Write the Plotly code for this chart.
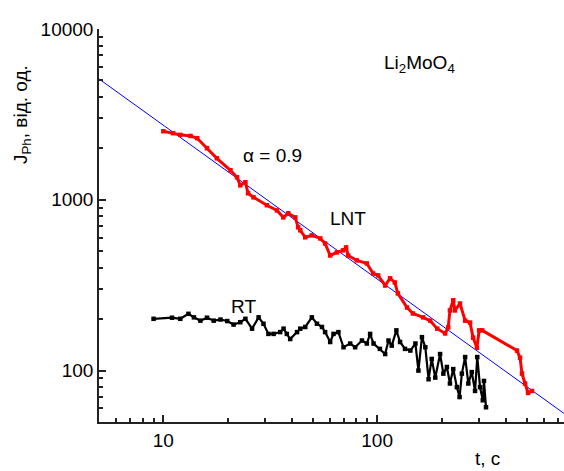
import plotly.graph_objects as go

# LNT (red) series
lnt_t = [10.0, 11.1, 12.0, 13.4, 14.4, 16.0, 17.8, 20.6, 22.1, 22.9, 24.2, 24.9, 26.4,
         30.5, 34.0, 36.4, 38.4, 41.4, 42.7, 43.7, 46.1, 49.5, 54.2, 57.1, 60.3, 64.8,
         69.3, 71.6, 73.2, 80.3, 89.5, 95.8, 101, 109, 115, 121, 125, 138, 147, 164,
         177, 191, 208, 215, 219, 227, 231, 244, 258, 272, 281, 293, 300, 310, 451,
         466, 476, 492, 508, 530]
lnt_J = [2520, 2455, 2400, 2366, 2294, 2005, 1750, 1489, 1355, 1216, 1267, 1092, 1034,
         929, 867, 789, 834, 789, 690, 663, 603, 619, 594, 555, 472, 492,
         506, 526, 472, 442, 424, 370, 361, 315, 347, 328, 283, 234, 216, 205,
         196, 176, 165, 179, 225, 258, 225, 247, 196, 191, 156, 136, 172, 172, 131,
         119, 96, 84, 74, 76]

# RT (black) series
rt_t = [9.0, 10.98, 12.0, 13.1, 13.9, 14.9, 16.0, 17.2, 18.5, 19.9, 21.3, 22.9, 24.2,
        26.0, 27.9, 29.4, 31.0, 32.8, 35.2, 36.5, 37.8, 39.2, 42.2, 43.7, 46.1, 49.5,
        52.3, 55.2, 57.1, 60.3, 62.5, 65.9, 69.6, 74.8, 78.9, 84.9, 89.5, 92.7, 96.2,
        103, 109, 113, 117, 123, 128, 135, 143, 151, 156, 162, 168, 174, 180, 187,
        197, 204, 212, 219, 227, 236, 243, 249, 258, 267, 277, 287, 294, 303, 312,
        316, 323]
rt_J = [201, 204, 201, 215, 205, 196, 204, 196, 199, 195, 186, 192, 201,
        176, 205, 188, 164, 164, 168, 176, 164, 153, 168, 176, 180, 205,
        188, 180, 168, 147, 164, 168, 137, 144, 137, 150, 144, 164, 144,
        134, 125, 150, 140, 172, 147, 134, 131, 144, 100, 157, 137, 89, 117, 91,
        125, 96, 105, 84, 102, 80, 70, 96, 120, 84, 98, 76, 120, 80, 67,
        87, 61]

# power-law fit (alpha = 0.9) end points
fit_t = [5, 750]
fit_J = [5100, 56]

y_ticks = [100, 1000, 10000]
x_ticks = [10, 100]

fig = go.Figure()
fig.add_trace(go.Scatter(x=fit_t, y=fit_J, mode="lines",
                         line=dict(color="#0000FF", width=1)))
fig.add_trace(go.Scatter(x=rt_t, y=rt_J, mode="lines+markers",
                         line=dict(color="black", width=2.2),
                         marker=dict(color="black", size=4.5, symbol="square")))
fig.add_trace(go.Scatter(x=lnt_t, y=lnt_J, mode="lines+markers",
                         line=dict(color="#FF0000", width=3),
                         marker=dict(color="#FF0000", size=4.5, symbol="square")))

font = "Liberation Sans, Arial, sans-serif"
axis_common = dict(showline=True, linecolor="#222", linewidth=1.5,
                   ticks="inside", ticklen=7, tickwidth=1.5, tickcolor="#222",
                   showgrid=False, zeroline=False, tickformat="d",
                   tickfont=dict(family=font, size=19, color="black"),
                   minor=dict(ticks="inside", ticklen=4, tickwidth=1.5,
                              tickcolor="#222", dtick="D1", showgrid=False))

fig.update_xaxes(type="log", range=[0.699, 2.874], tickmode="array",
                 tickvals=x_ticks, **axis_common)
fig.update_yaxes(type="log", range=[1.699, 4.0], tickmode="array",
                 tickvals=y_ticks, **axis_common)

ann_font = dict(family=font, size=19, color="black")
fig.add_annotation(text="Li<sub>2</sub>MoO<sub>4</sub>", x=419, y=64, showarrow=False, font=ann_font)
fig.add_annotation(text="α = 0.9", x=272, y=155, showarrow=False, font=ann_font)
fig.add_annotation(text="LNT", x=348, y=218, showarrow=False, font=ann_font)
fig.add_annotation(text="RT", x=243, y=306, showarrow=False, font=ann_font)
fig.add_annotation(text="t, c", x=487, y=459, showarrow=False, font=ann_font)
fig.add_annotation(text="J<sub>Ph</sub>, від. од.", x=22, y=115, showarrow=False,
                   textangle=-90, font=ann_font)

# convert pixel-placed annotations to paper coords
W, H = 564, 471
L, R, T, B = 99, 0, 29, 49
pw, ph = W - L - R, H - T - B
for a in fig.layout.annotations:
    px, py = a.x, a.y
    a.xref = "paper"
    a.yref = "paper"
    a.x = (px - L) / pw
    a.y = 1 - (py - T) / ph
    a.xanchor = "center"
    a.yanchor = "middle"

fig.update_layout(width=W, height=H, margin=dict(l=L, r=R, t=T, b=B),
                  plot_bgcolor="white", paper_bgcolor="white", showlegend=False)

fig.write_html("out.html")
